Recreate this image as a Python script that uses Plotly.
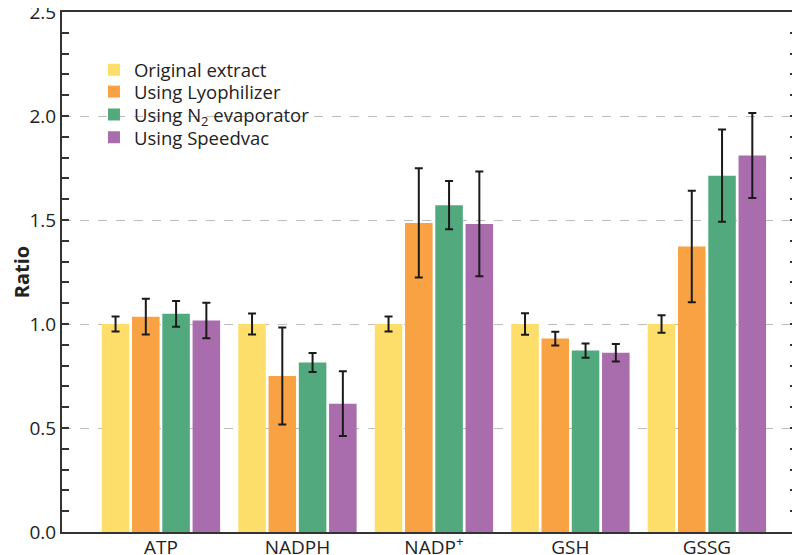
import plotly.graph_objects as go

categories = ["ATP", "NADPH", "NADP<sup>+</sup>", "GSH", "GSSG"]

series_names = ["Original extract", "Using Lyophilizer",
                "Using N<sub>2</sub> evaporator", "Using Speedvac"]
series_colors = ["#FDDE6B", "#F8A244", "#52A97E", "#A96CAD"]

original = [1.00, 1.00, 1.00, 1.00, 1.00]
original_err = [0.036, 0.051, 0.036, 0.052, 0.042]

lyophilizer = [1.035, 0.750, 1.486, 0.930, 1.373]
lyophilizer_err = [0.086, 0.233, 0.263, 0.033, 0.268]

n2_evaporator = [1.049, 0.815, 1.571, 0.872, 1.713]
n2_evaporator_err = [0.062, 0.046, 0.116, 0.034, 0.222]

speedvac = [1.017, 0.617, 1.481, 0.862, 1.810]
speedvac_err = [0.085, 0.156, 0.252, 0.042, 0.204]

values = [original, lyophilizer, n2_evaporator, speedvac]
errors = [original_err, lyophilizer_err, n2_evaporator_err, speedvac_err]

FONT = "Open Sans, Noto Sans, DejaVu Sans, sans-serif"

# one legend per series so the row spacing can match the original
legend_ids = ["legend", "legend2", "legend3", "legend4"]
legend_rows = [0.888, 0.846, 0.802, 0.758]

fig = go.Figure()
for name, color, vals, errs, lid in zip(series_names, series_colors, values, errors, legend_ids):
    fig.add_trace(go.Bar(
        x=categories,
        y=vals,
        name=name,
        legend=lid,
        marker=dict(color=color, line=dict(width=0)),
        error_y=dict(type="data", array=errs, visible=True,
                     color="#1a1a1a", thickness=2, width=4),
    ))

legend_style = dict(xanchor="left", yanchor="middle",
                    bgcolor="rgba(255,255,255,0)",
                    font=dict(size=18.5, color="#222", family=FONT))
layout_legends = {}
for lid, ypos in zip(legend_ids, legend_rows):
    layout_legends[lid] = dict(x=0.0435, y=ypos, **legend_style)

# page body sits the figure 8px in, so the figure is 8px smaller each way
fig.update_layout(
    width=792, height=547,
    margin=dict(l=54, r=3, t=4, b=23),
    paper_bgcolor="white",
    plot_bgcolor="white",
    barmode="group",
    bargap=0.113,
    bargroupgap=0.09,
    font=dict(family=FONT, size=19, color="#222"),
    showlegend=True,
    **layout_legends,
)

fig.update_xaxes(
    range=[-0.725, 4.66],
    showline=True, linecolor="#333", linewidth=2, mirror=True,
    ticks="", showgrid=False,
    tickfont=dict(size=19),
    ticklabelstandoff=-3,
    automargin=False,
    ticklabeloverflow="allow",
)

fig.update_yaxes(
    range=[0, 2.5],
    tickvals=[0, 0.5, 1.0, 1.5, 2.0, 2.5],
    ticktext=["0.0", "0.5", "1.0", "1.5", "2.0", "2.5"],
    showline=True, linecolor="#333", linewidth=2, mirror="ticks",
    ticks="inside", ticklen=7, tickwidth=1.5, tickcolor="#333",
    minor=dict(dtick=0.1, ticks="inside", ticklen=7, tickwidth=1.5,
               tickcolor="#333", showgrid=False),
    showgrid=True, gridcolor="#bdbdbd", gridwidth=1.2, griddash="dash",
    zeroline=False,
    tickfont=dict(size=19),
    automargin=False,
    ticklabeloverflow="allow",
    title=dict(text="<b>Ratio</b>", font=dict(size=20), standoff=6),
)

fig.write_html("out.html")
